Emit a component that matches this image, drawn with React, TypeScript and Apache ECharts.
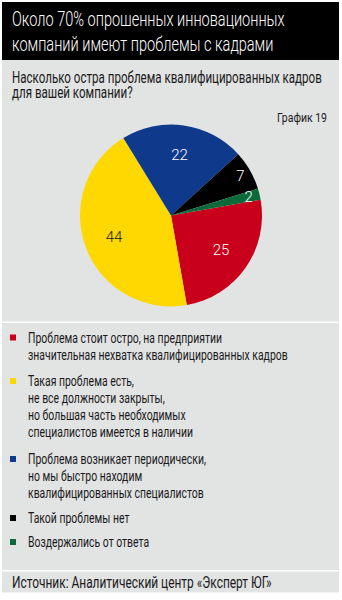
import React, { useEffect, useRef } from "react";
import * as echarts from "echarts";

const titleLines = ["Около 70% опрошенных инновационных", "компаний имеют проблемы с кадрами"];
const subtitleLines = ["Насколько остра проблема квалифицированных кадров", "для вашей компании?"];
const chartNo = "График 19";
const source = "Источник: Аналитический центр «Эксперт ЮГ»";

const categories = [
  "Проблема стоит остро, на предприятии\nзначительная нехватка квалифицированных кадров",
  "Такая проблема есть,\nне все должности закрыты,\nно большая часть необходимых\nспециалистов имеется в наличии",
  "Проблема возникает периодически,\nно мы быстро находим\nквалифицированных специалистов",
  "Такой проблемы нет",
  "Воздержались от ответа",
];
const values = [25, 44, 22, 7, 2];
const colors = ["#c9001b", "#fed800", "#0f3a8b", "#000000", "#0b6a3a"];
const labelColors = ["#ffffff", "#1a1a1a", "#ffffff", "#ffffff", "#ffffff"];
const outerLabel = [false, false, false, true, true];

const FONT = "Roboto, 'Noto Sans', sans-serif";

function measure(text: string, size: number, weight = "normal"): number {
  const c = document.createElement("canvas");
  const ctx = c.getContext("2d");
  if (!ctx) return text.length * size * 0.5;
  ctx.font = `${weight} ${size}px ${FONT}`;
  return ctx.measureText(text).width;
}

export default function App() {
  const ref = useRef<HTMLDivElement>(null);
  useEffect(() => {
    if (!ref.current) return;
    const chart = echarts.init(ref.current, null, { renderer: "svg" });
    const cx = 171, cy = 215.5, r = 91;

    // condensed look: horizontal scale fitted to the reference line widths
    const titleSize = 21, subSize = 16, legSize = 15.5, srcSize = 16, noSize = 13.5;
    const titleScale = 273 / measure(titleLines[0], titleSize, "300");
    const subScale = 310 / measure(subtitleLines[0], subSize);
    const legScale = 260 / measure("значительная нехватка квалифицированных кадров", legSize);
    const srcScale = 260 / measure(source, srcSize);
    const noScale = 50 / measure(chartNo, noSize);

    const graphic: any[] = [
      { type: "rect", z: -10, shape: { x: 2, y: 2, width: 337, height: 58 }, style: { fill: "#000" } },
      { type: "rect", z: -10, shape: { x: 2, y: 60, width: 337, height: 261.5 }, style: { fill: "#e2e3e3" } },
      { type: "rect", z: -10, shape: { x: 2, y: 323, width: 337, height: 247 }, style: { fill: "#e2e3e3" } },
      { type: "rect", z: -10, shape: { x: 2, y: 571.5, width: 337, height: 21 }, style: { fill: "#e2e3e3" } },
    ];
    titleLines.forEach((t, i) => {
      graphic.push({ type: "text", x: 12, y: 18 + i * 25, scaleX: titleScale, style: { text: t, fill: "#fff", font: `300 ${titleSize}px ${FONT}`, textVerticalAlign: "middle" } });
    });
    subtitleLines.forEach((t, i) => {
      graphic.push({ type: "text", x: 12, y: 77 + i * 15.5, scaleX: subScale, style: { text: t, fill: "#1a1a1a", font: `${subSize}px ${FONT}`, textVerticalAlign: "middle" } });
    });
    graphic.push({ type: "text", x: 327, y: 118, scaleX: noScale, style: { text: chartNo, fill: "#1a1a1a", font: `${noSize}px ${FONT}`, textAlign: "right", textVerticalAlign: "middle" } });

    const itemTops = [337.5, 381, 459, 518, 542];
    categories.forEach((c, i) => {
      graphic.push({ type: "rect", shape: { x: 10, y: itemTops[i] - 3, width: 6, height: 6 }, style: { fill: colors[i] } });
      c.split("\n").forEach((line, j) => {
        graphic.push({ type: "text", x: 28, y: itemTops[i] + j * 17, scaleX: legScale, style: { text: line, fill: "#1a1a1a", font: `${legSize}px ${FONT}`, textVerticalAlign: "middle" } });
      });
    });
    graphic.push({ type: "text", x: 12, y: 582, scaleX: srcScale, style: { text: source, fill: "#1a1a1a", font: `${srcSize}px ${FONT}`, textVerticalAlign: "middle" } });

    const baseData = values.map((v, i) => ({ value: v, name: categories[i], itemStyle: { color: colors[i] } }));
    const labelSeries = (outer: boolean, rad: number) => ({
      type: "pie",
      center: [cx, cy],
      radius: [0, rad],
      startAngle: 10,
      silent: true,
      z: 5,
      labelLine: { show: false },
      data: values.map((v, i) => ({
        value: v,
        name: categories[i],
        itemStyle: { color: "rgba(0,0,0,0)" },
        label: {
          show: outerLabel[i] === outer,
          position: "inside",
          formatter: "{c}",
          color: labelColors[i],
          fontFamily: FONT,
          fontWeight: 300,
          fontSize: 15,
        },
      })),
    });

    chart.setOption({
      animation: false,
      backgroundColor: "#ffffff",
      graphic,
      series: [
        {
          type: "pie",
          center: [cx, cy],
          radius: [0, r],
          startAngle: 10,
          silent: true,
          label: { show: false },
          labelLine: { show: false },
          itemStyle: { borderWidth: 0 },
          data: baseData,
        },
        labelSeries(false, 116),
        labelSeries(true, 154),
      ],
    });
    return () => chart.dispose();
  }, []);
  return <div ref={ref} style={{ position: "absolute", left: 0, top: 0, width: 342, height: 600 }} />;
}
